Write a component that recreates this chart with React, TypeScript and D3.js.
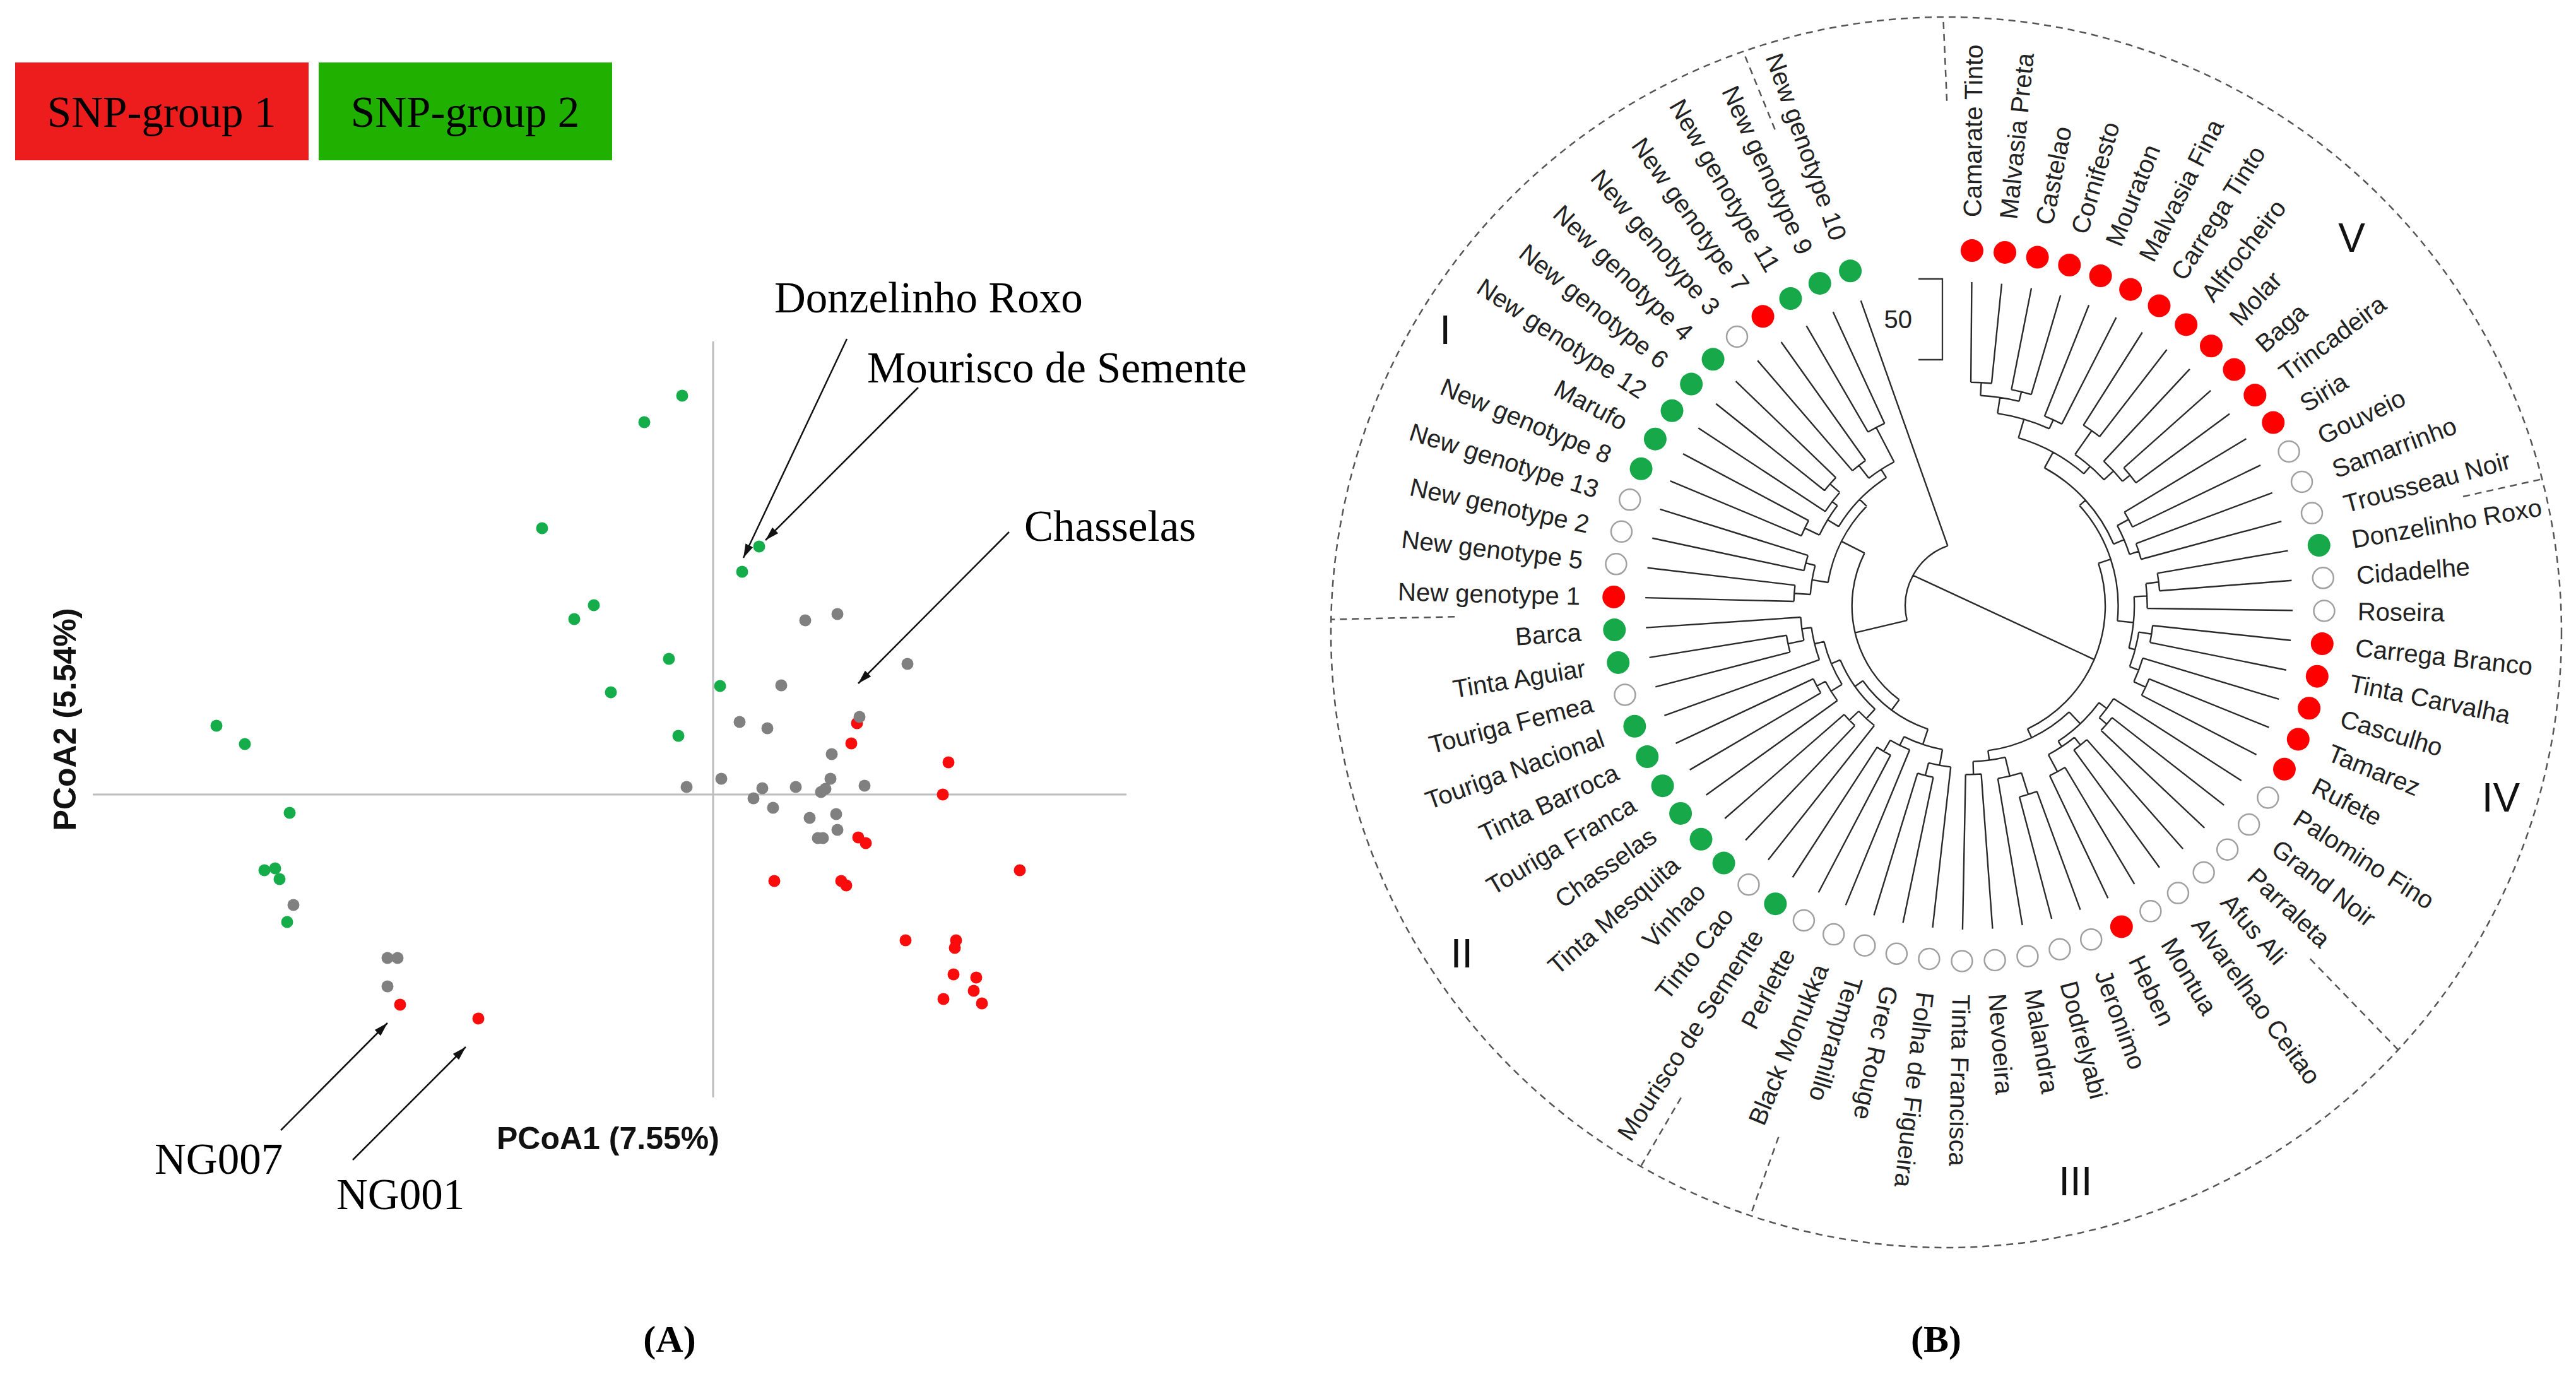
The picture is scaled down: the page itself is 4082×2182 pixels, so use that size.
import React from 'react';
import * as d3 from 'd3';

const W = 4082;
const H = 2182;

// ---------------- Panel A: legend ----------------
const legendLabels = ['SNP-group 1', 'SNP-group 2'];
const legendColors = ['#ee1d1d', '#1fb000'];

// ---------------- Panel A: PCoA scores ----------------
const pcoaGroup1: [number, number][] = [
  [2.28, 1.13], [2.19, 0.81], [3.73, 0.51], [3.64, 0.0], [2.3, -0.68], [2.42, -0.77],
  [4.86, -1.2], [0.97, -1.37], [2.03, -1.37], [2.11, -1.44], [3.05, -2.31], [3.85, -2.31],
  [3.83, -2.43], [3.81, -2.85], [4.17, -2.9], [4.13, -3.11], [3.65, -3.24], [4.26, -3.31],
  [-4.96, -3.33], [-3.72, -3.55],
];
const pcoaGroup2: [number, number][] = [
  [-0.49, 6.32], [-1.09, 5.9], [-2.71, 4.22], [0.73, 3.93], [0.46, 3.53], [-1.89, 3.0],
  [-2.2, 2.78], [-0.7, 2.15], [0.11, 1.72], [-1.62, 1.62], [-0.55, 0.93], [-7.87, 1.09],
  [-7.42, 0.8], [-6.71, -0.29], [-7.11, -1.2], [-6.94, -1.17], [-6.87, -1.34], [-6.75, -2.02],
];
const pcoaOther: [number, number][] = [
  [1.97, 2.86], [1.46, 2.76], [3.08, 2.07], [1.08, 1.73], [2.32, 1.23], [0.42, 1.15],
  [0.86, 1.05], [1.88, 0.64], [0.13, 0.25], [1.86, 0.25], [-0.42, 0.12], [0.78, 0.1],
  [1.31, 0.12], [2.4, 0.14], [1.78, 0.09], [1.71, 0.04], [0.64, -0.06], [0.95, -0.21],
  [1.53, -0.37], [1.95, -0.31], [1.97, -0.56], [1.66, -0.69], [1.74, -0.69],
  [-6.65, -1.75], [-5.16, -2.59], [-5.0, -2.59], [-5.16, -3.04],
];
const pcoaXDomain = [-9.83, 6.55];
const pcoaYDomain = [-4.8, 7.18];

const annLabels = ['Donzelinho Roxo', 'Mourisco de Semente', 'Chasselas', 'NG007', 'NG001'];
const annText: [number, number][] = [[0.97, 7.64], [2.44, 6.53], [4.93, 4.02], [-8.85, -6.01], [-5.97, -6.57]];
const annFrom: [number, number][] = [[2.12, 7.22], [3.25, 6.45], [4.69, 4.16], [-6.85, -5.32], [-5.71, -5.79]];
const annTo: [number, number][] = [[0.48, 3.75], [0.83, 4.03], [2.3, 1.76], [-5.16, -3.62], [-3.92, -4.0]];

// ---------------- Panel B: dendrogram ----------------
const leafNames = [
  'Camarate Tinto', 'Malvasia Preta', 'Castelao', 'Cornifesto', 'Mouraton', 'Malvasia Fina',
  'Carrega Tinto', 'Alfrocheiro', 'Molar', 'Baga', 'Trincadeira', 'Siria', 'Gouveio', 'Samarrinho',
  'Trousseau Noir', 'Donzelinho Roxo', 'Cidadelhe', 'Roseira', 'Carrega Branco', 'Tinta Carvalha',
  'Casculho', 'Tamarez', 'Rufete', 'Palomino Fino', 'Grand Noir', 'Parraleta', 'Afus Ali',
  'Alvarelhao Ceitao', 'Montua', 'Heben', 'Jeronimo', 'Dodrelyabi', 'Malandra', 'Nevoeira',
  'Tinta Francisca', 'Folha de Figueira', 'Grec Rouge', 'Tempranillo', 'Black Monukka', 'Perlette',
  'Mourisco de Semente', 'Tinto Cao', 'Vinhao', 'Tinta Mesquita', 'Chasselas', 'Touriga Franca',
  'Tinta Barroca', 'Touriga Nacional', 'Touriga Femea', 'Tinta Aguiar', 'Barca', 'New genotype 1',
  'New genotype 5', 'New genotype 2', 'New genotype 13', 'New genotype 8', 'Marufo', 'New genotype 12',
  'New genotype 6', 'New genotype 4', 'New genotype 3', 'New genotype 7', 'New genotype 11',
  'New genotype 9', 'New genotype 10',
];
// r = SNP-group 1, g = SNP-group 2, o = none
const leafGroups = 'rrrrrrrrrrrr' + 'ooo' + 'g' + 'oo' + 'rrrrr' + 'oooooo' + 'r' + 'oooooooooo' + 'g' + 'o' +
  'gggggg' + 'o' + 'gg' + 'r' + 'ooo' + 'ggggg' + 'o' + 'r' + 'ggg';

type TNode = { h?: number; c?: (TNode | number)[]; leaf?: number };
const n = (h: number, ...c: (TNode | number)[]): TNode => ({ h, c });

// node heights (dissimilarity units; scale bar = 50)
const cladeV = n(103,
  n(92,
    n(80, n(70, n(62, 0, 1), n(64, 2, 3)), n(74, 4, 5)),
    n(86, n(68, 6, 7), n(78, 8, n(72, 9, 10)))),
  n(96, n(88, 11, 12), n(90, 13, 14)));
const cladeIV = n(98, n(90, n(82, 15, 16), 17), n(94, n(86, 18, 19), n(88, 20, n(80, 21, 22))));
const cladeIII = n(110,
  n(100, n(94, 23, n(88, 24, 25)), n(96, n(90, 26, 27), n(84, 28, 29))),
  n(104, n(92, n(78, 30, 31), 32), n(96, 33, 34)));
const cladeB = n(116, n(108, cladeV, cladeIV), cladeIII);
const cladeII = n(120,
  n(110, n(100, 35, n(92, 36, 37)), n(104, 38, n(96, 39, 40))),
  n(114, n(106, 41, n(98, 42, 43)), n(108, n(100, 44, n(94, 45, 46)), n(102, 47, n(96, n(86, 48, 49), 50)))));
const cladeI = n(112,
  n(102, n(92, 51, 52), n(96, 53, 54)),
  n(106, n(98, n(88, 55, 56), n(94, 57, n(86, 58, 59))), n(100, n(90, 60, 61), n(76, 62, 63))));
const rootNode = n(161, n(128, cladeII, cladeI), 64);
const treeData: TNode = { c: [cladeB, rootNode] };

const clusterNames = ['I', 'II', 'III', 'IV', 'V'];
const clusterAngles = [207.8, 145.6, 79.5, 19.8, 316.1];
const clusterRadii = [938, 974, 927, 896, 842];

const separatorPos = [14.5, 25.5, 37.5, 39.5, 50.5, 63.5, 67.2];
const separatorInner = [802, 778, 894, 903, 815, 815, 801];
const scaleBarValue = 50;

export default function App() {
  // ---------- Panel A scales ----------
  const x = d3.scaleLinear().domain(pcoaXDomain).range([147, 1785]);
  const y = d3.scaleLinear().domain(pcoaYDomain).range([1739, 541]);

  // ---------- Panel B layout ----------
  const cx = 3120, cy = 960;
  const startAngle = 270.5;
  const step = 340 / 64;
  const rScale = d3.scaleLinear().domain([0, 200]).range([513, 1]);
  const dotR = 563;
  const labelR = 616;
  const outerC = { x: 3084, y: 1002, r: 975 };

  const root = d3.hierarchy<TNode>(treeData, (d) =>
    d.c ? d.c.map((k) => (typeof k === 'number' ? { leaf: k } : k)) : null);
  d3.cluster<TNode>().size([step * 65, 1]).separation(() => 1)(root);
  const angOf = (nd: d3.HierarchyNode<TNode>) => startAngle - step / 2 + (nd as any).x;
  const rOf = (nd: d3.HierarchyNode<TNode>) => (nd.data.leaf !== undefined ? rScale(0) : rScale(nd.data.h!));
  const rad = (deg: number) => (deg * Math.PI) / 180;
  const pt = (r: number, deg: number): [number, number] => [cx + r * Math.cos(rad(deg)), cy + r * Math.sin(rad(deg))];

  const p = d3.path();
  root.descendants().forEach((nd) => {
    if (nd.depth === 0 || !nd.children) return;
    const r = rOf(nd);
    const a0 = angOf(nd.children[0]);
    const a1 = angOf(nd.children[nd.children.length - 1]);
    const s = pt(r, a0);
    p.moveTo(s[0], s[1]);
    p.arc(cx, cy, r, rad(a0), rad(a1), false);
    nd.children.forEach((ch) => {
      const a = angOf(ch);
      const q0 = pt(r, a);
      const q1 = pt(rOf(ch), a);
      p.moveTo(q0[0], q0[1]);
      p.lineTo(q1[0], q1[1]);
    });
  });
  const nodeB = root.children![0];
  const nodeR = root.children![1];
  const cb = pt(rOf(nodeR), angOf(nodeR));
  const ce = pt(rOf(nodeB), angOf(nodeB));
  p.moveTo(cb[0], cb[1]);
  p.lineTo(ce[0], ce[1]);

  const leaves = root.leaves();

  // separator lines end where they meet the outer dashed circle
  const sepLines = separatorPos.map((pos, i) => {
    const a = rad(startAngle + pos * step);
    const ux = Math.cos(a), uy = Math.sin(a);
    const dx = cx - outerC.x, dy = cy - outerC.y;
    const bq = dx * ux + dy * uy;
    const cq = dx * dx + dy * dy - outerC.r * outerC.r;
    const t = -bq + Math.sqrt(bq * bq - cq);
    const ri = separatorInner[i];
    return [cx + ri * ux, cy + ri * uy, cx + t * ux, cy + t * uy];
  });

  const sbLen = rScale(0) - rScale(scaleBarValue);
  const sbX = cx - 42;
  const sbTop = cy - 518;

  const serif = "'Liberation Serif', 'Times New Roman', serif";
  const sans = "'Liberation Sans', Arial, sans-serif";

  const dot = (pts: [number, number][], color: string) =>
    pts.map((d, i) => <circle key={color + i} cx={x(d[0])} cy={y(d[1])} r={9.5} fill={color} />);

  return (
    <svg width={W} height={H} viewBox={`0 0 ${W} ${H}`} style={{ position: 'absolute', left: 0, top: 0, background: '#fff' }}>
      <defs>
        <marker id="arr" viewBox="0 0 10 10" refX="10" refY="5" markerWidth="22" markerHeight="22"
          markerUnits="userSpaceOnUse" orient="auto">
          <path d="M0,2 L10,5 L0,8 z" fill="#111" />
        </marker>
      </defs>
      <rect x={0} y={0} width={W} height={H} fill="#fff" />

      {/* Legend */}
      {legendLabels.map((l, i) => (
        <g key={l}>
          <rect x={24 + i * 481} y={99} width={465} height={155} fill={legendColors[i]} />
          <text x={24 + i * 481 + 232} y={201} textAnchor="middle" fontFamily={serif} fontSize={69} fill="#000">{l}</text>
        </g>
      ))}

      {/* PCoA axes */}
      <line x1={x(pcoaXDomain[0])} x2={x(pcoaXDomain[1])} y1={y(0)} y2={y(0)} stroke="#bdbdbd" strokeWidth={3} />
      <line x1={x(0)} x2={x(0)} y1={y(pcoaYDomain[0])} y2={y(pcoaYDomain[1])} stroke="#bdbdbd" strokeWidth={3} />
      {dot(pcoaGroup1, '#fa0c0c')}
      {dot(pcoaGroup2, '#14ad4a')}
      {dot(pcoaOther, '#808080')}
      <text x={787} y={1821} fontFamily={sans} fontWeight="bold" fontSize={50} fill="#111">PCoA1 (7.55%)</text>
      <text transform={`translate(103,1140) rotate(-90)`} textAnchor="middle" dominantBaseline="central"
        fontFamily={sans} fontWeight="bold" fontSize={50} fill="#111">PCoA2 (5.54%)</text>

      {/* annotations */}
      {annLabels.map((l, i) => (
        <g key={l}>
          <line x1={x(annFrom[i][0])} y1={y(annFrom[i][1])} x2={x(annTo[i][0])} y2={y(annTo[i][1])}
            stroke="#111" strokeWidth={2.5} markerEnd="url(#arr)" />
          <text x={x(annText[i][0])} y={y(annText[i][1])} fontFamily={serif} fontSize={69} fill="#000">{l}</text>
        </g>
      ))}
      <text x={1061} y={2142} textAnchor="middle" fontFamily={serif} fontWeight="bold" fontSize={60}>(A)</text>

      {/* Panel B */}
      <circle cx={outerC.x} cy={outerC.y} r={outerC.r} fill="none" stroke="#555" strokeWidth={2.5} strokeDasharray="11 8" />
      {sepLines.map((s, i) => (
        <line key={'sep' + i} x1={s[0]} y1={s[1]} x2={s[2]} y2={s[3]} stroke="#555" strokeWidth={2.5} strokeDasharray="11 8" />
      ))}
      <path d={p.toString()} fill="none" stroke="#2a2a2a" strokeWidth={2.4} />

      {leaves.map((lf) => {
        const i = lf.data.leaf!;
        const a = angOf(lf);
        const [dx, dy] = pt(dotR, a);
        const g = leafGroups[i];
        const [lx, ly] = pt(labelR, a);
        const am = ((a % 360) + 360) % 360;
        const flip = am > 108 && am < 270;
        return (
          <g key={'leaf' + i}>
            {g === 'o' ? (
              <circle cx={dx} cy={dy} r={16.5} fill="#fff" stroke="#a0a0a0" strokeWidth={2.5} />
            ) : (
              <circle cx={dx} cy={dy} r={18} fill={g === 'r' ? '#ff0000' : '#17a84a'} />
            )}
            <text transform={`translate(${lx},${ly}) rotate(${flip ? a + 180 : a})`} textAnchor={flip ? 'end' : 'start'}
              dy="0.35em" fontFamily={sans} fontSize={40} fill="#222">{leafNames[i]}</text>
          </g>
        );
      })}

      {clusterNames.map((c, i) => {
        const [tx, ty] = pt(clusterRadii[i], clusterAngles[i]);
        return (
          <text key={c} x={tx} y={ty} textAnchor="middle" dy="0.35em" fontFamily={sans} fontSize={64} fill="#111">{c}</text>
        );
      })}

      {/* scale bar */}
      <path d={`M${sbX - 38},${sbTop} H${sbX} V${sbTop + sbLen} H${sbX - 38}`} fill="none" stroke="#333" strokeWidth={2.3} />
      <text x={sbX - 48} y={sbTop + sbLen / 2} dy="0.35em" textAnchor="end" fontFamily={sans} fontSize={40} fill="#222">
        {scaleBarValue}
      </text>

      <text x={3068} y={2142} textAnchor="middle" fontFamily={serif} fontWeight="bold" fontSize={60}>(B)</text>
    </svg>
  );
}
